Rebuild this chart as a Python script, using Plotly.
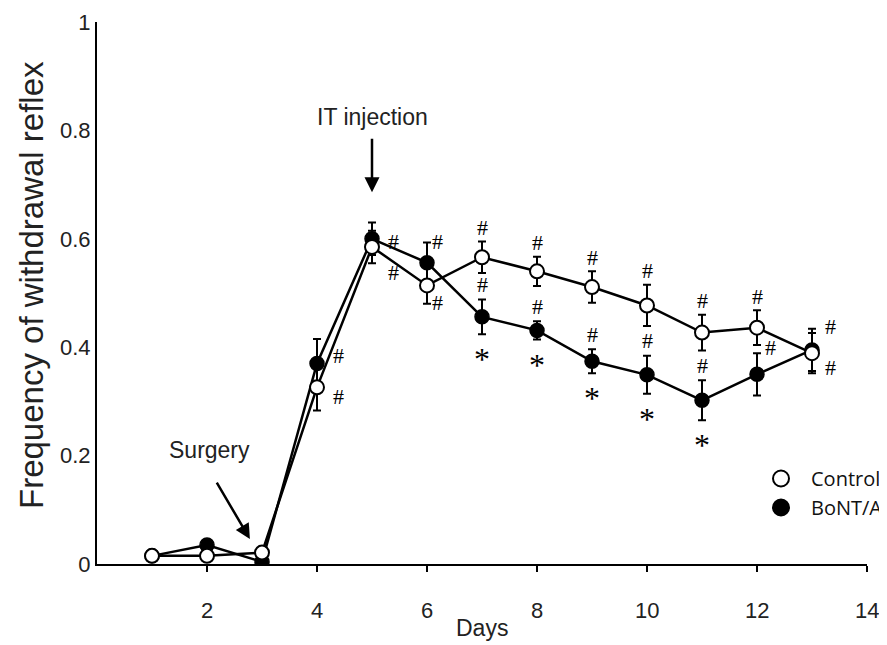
import plotly.graph_objects as go

days = list(range(1, 14))
control = [0.015, 0.015, 0.021, 0.326, 0.585, 0.514, 0.566, 0.540, 0.511, 0.477, 0.427, 0.436, 0.389]
control_err = [0.005, 0.005, 0.005, 0.043, 0.030, 0.034, 0.029, 0.027, 0.029, 0.038, 0.033, 0.032, 0.037]
bont = [0.015, 0.035, 0.004, 0.370, 0.600, 0.556, 0.456, 0.431, 0.374, 0.349, 0.302, 0.350, 0.395]
bont_err = [0.005, 0.008, 0.004, 0.045, 0.030, 0.037, 0.032, 0.017, 0.022, 0.035, 0.037, 0.039, 0.039]

x_ticks = [2, 4, 6, 8, 10, 12, 14]
x_ticktext = ["2", "4", "6", "8", "10", "12", "14"]
y_ticks = [0, 0.2, 0.4, 0.6, 0.8, 1]
y_ticktext = ["0", "0.2", "0.4", "0.6", "0.8", "1"]

hash_ctrl_days = [7, 8, 9, 10, 11, 12]
hash_bont_days = [7, 8, 9, 10, 11]
star_days = [7, 8, 9, 10, 11]

SANS = "Liberation Sans"
SERIF = "Liberation Serif"

# the page body has an 8px margin; plot area on screen: x 97..867, y 22..564
OFF = 8
W, H = 887 - OFF, 645 - OFF
PL, PR, PT, PB = 97, 867, 22, 564


def px_x(p):
    return (p - PL) / (PR - PL)


def px_y(p):
    return (PB - p) / (PB - PT)


fig = go.Figure()

err_style = dict(type="data", color="black", thickness=2, width=4)

fig.add_trace(go.Scatter(
    x=days, y=bont, mode="lines+markers", name="BoNT/A", showlegend=False,
    line=dict(color="black", width=2.5),
    marker=dict(symbol="circle", size=14, color="black", line=dict(color="black", width=1.5)),
    error_y=dict(array=bont_err, **err_style),
))
fig.add_trace(go.Scatter(
    x=days, y=control, mode="lines+markers", name="Control", showlegend=False,
    line=dict(color="black", width=2.5),
    marker=dict(symbol="circle", size=14, color="white", line=dict(color="black", width=2)),
    error_y=dict(array=control_err, **err_style),
))
# legend-only entries
fig.add_trace(go.Scatter(x=[None], y=[None], mode="markers", name="Control",
                         marker=dict(symbol="circle", size=16, color="white", line=dict(color="black", width=2))))
fig.add_trace(go.Scatter(x=[None], y=[None], mode="markers", name="BoNT/A",
                         marker=dict(symbol="circle", size=16, color="black", line=dict(color="black", width=2))))

ann = []


def idx(d):
    return days.index(d)


hash_font = dict(family=SERIF, size=22, color="black")
star_font = dict(family=SERIF, size=32, color="black")

for d in hash_ctrl_days:
    i = idx(d)
    ann.append(dict(x=d, y=control[i] + control_err[i], text="#", showarrow=False,
                    yshift=14, font=hash_font))
for d in hash_bont_days:
    i = idx(d)
    ann.append(dict(x=d, y=bont[i] + bont_err[i], text="#", showarrow=False,
                    yshift=15, font=hash_font))
for d in star_days:
    i = idx(d)
    ann.append(dict(x=d, y=bont[i] - bont_err[i], text="*", showarrow=False,
                    yshift=-25, font=star_font))

special = [  # (day, series, xshift, yshift)
    (4, "b", 21, 8), (4, "c", 21, -9),
    (5, "b", 21, -3), (5, "c", 21, -26),
    (6, "b", 10, 21), (6, "c", 10, -17),
    (12, "b", 13, 27),
    (13, "b", 18, 23), (13, "c", 18, -14),
]
for d, s, xs, ys in special:
    i = idx(d)
    yv = bont[i] if s == "b" else control[i]
    ann.append(dict(x=d, y=yv, text="#", showarrow=False, xshift=xs, yshift=ys, font=hash_font))

# x tick labels, set further below the axis than plotly's default
for t, lab in zip(x_ticks, x_ticktext):
    ann.append(dict(x=t, y=0, text=lab, showarrow=False, yshift=-46,
                    font=dict(family=SANS, size=22, color="#222")))

# IT injection
ann.append(dict(x=5, y=0.686, text="", showarrow=True, ax=0, ay=-55,
                arrowhead=2, arrowsize=1.2, arrowwidth=2.5, arrowcolor="black"))
ann.append(dict(x=5, y=0.686, text="IT injection", showarrow=False, yshift=75,
                font=dict(family=SANS, size=23, color="#222")))
# Surgery
ann.append(dict(x=2.78, y=0.046, text="", showarrow=True, ax=-34, ay=-58,
                arrowhead=2, arrowsize=1.2, arrowwidth=2.5, arrowcolor="black"))
ann.append(dict(x=2.05, y=0.211, text="Surgery", showarrow=False,
                font=dict(family=SANS, size=23, color="#222")))

# axis titles
ann.append(dict(xref="paper", yref="paper", x=px_x(482), y=px_y(628), xanchor="center", yanchor="middle",
                text="Days", showarrow=False, font=dict(family=SANS, size=23, color="#222")))
ann.append(dict(xref="paper", yref="paper", x=px_x(31), y=px_y(285), xanchor="center", yanchor="middle",
                text="Frequency of withdrawal reflex", showarrow=False, textangle=-90,
                font=dict(family=SANS, size=33, color="#222")))

fig.update_layout(
    width=W, height=H,
    margin=dict(l=PL - OFF, r=887 - PR, t=PT - OFF, b=645 - PB, autoexpand=False),
    plot_bgcolor="white", paper_bgcolor="white",
    font=dict(family=SANS, size=22, color="#222"),
    annotations=ann,
    showlegend=True,
    legend=dict(x=px_x(751), y=px_y(459), xanchor="left", yanchor="top",
                font=dict(family="Open Sans", size=20, color="#111"),
                bgcolor="rgba(0,0,0,0)", tracegroupgap=0, itemwidth=50),
)
fig.update_xaxes(range=[0, 14], tickvals=x_ticks, showticklabels=False,
                 showline=True, linecolor="black", linewidth=2,
                 ticks="outside", ticklen=6, tickwidth=2, tickcolor="black", automargin=False,
                 showgrid=False, zeroline=False)
fig.update_yaxes(range=[0, 1], tickvals=y_ticks, ticktext=y_ticktext, showline=True, automargin=False,
                 linecolor="black", linewidth=2, ticks="", showgrid=False, zeroline=False,
                 tickfont=dict(family=SANS, size=22, color="#222"))

fig.write_html("out.html")
